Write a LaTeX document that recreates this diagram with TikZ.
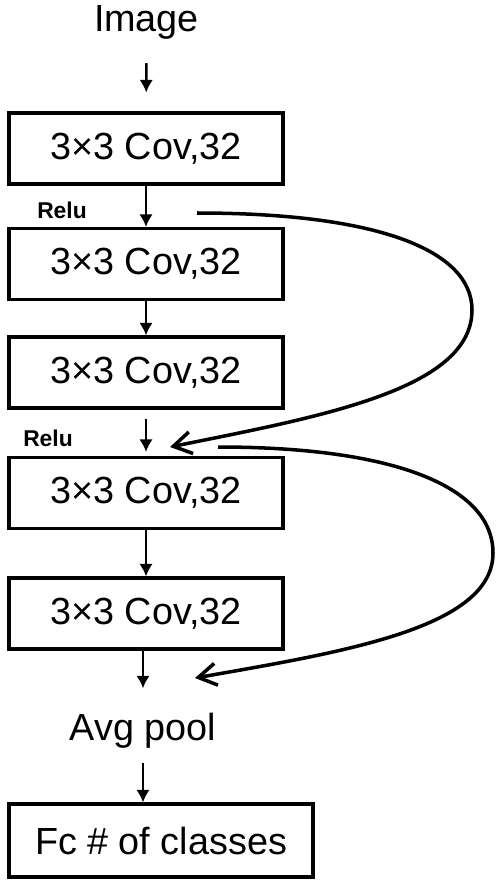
\documentclass[tikz,border=0pt]{standalone}
\usepackage{fontspec}
\setmainfont{Liberation Sans}
\usetikzlibrary{positioning,arrows.meta}

\begin{document}
\begin{tikzpicture}[
    x=0.02cm, y=-0.02cm,
    conv/.style={
        draw=black,
        line width=1.8pt,
        minimum width=5.48cm,
        minimum height=1.42cm,
        inner sep=0pt,
        font=\fontsize{21.5}{24}\selectfont
    },
    plain/.style={inner sep=0pt, font=\fontsize{21.5}{24}\selectfont},
    act/.style={inner sep=0pt, font=\fontsize{13}{15}\selectfont\bfseries},
    flow/.style={-{Latex[length=2.5mm,width=2.7mm]}, line width=1.4pt},
    skip/.style={-{Straight Barb[length=3.6mm,width=4.4mm]}, line width=2pt}
]

\useasboundingbox (0,0) rectangle (500,883);

% --- Column x-position ---
\def\xMid{146}

% --- Layers ---
\node[plain, anchor=base] (img) at (146.5, 31) {Image};
\node[conv] (c1) at (\xMid, 148.5) {3×3 Cov,32};
\node[conv] (c2) at (\xMid, 264)   {3×3 Cov,32};
\node[conv] (c3) at (\xMid, 372.5) {3×3 Cov,32};
\node[conv] (c4) at (\xMid, 493)   {3×3 Cov,32};
\node[conv] (c5) at (\xMid, 613.5) {3×3 Cov,32};
\node[plain, anchor=base] (pool) at (143, 740) {Avg pool};
\node[conv, minimum width=6.08cm, minimum height=1.46cm] (fc) at (161, 840.5) {Fc \# of classes};

% --- Activations ---
\node[act] (relu1) at (62, 210) {Relu};
\node[act] (relu2) at (48, 438) {Relu};

% --- Main flow ---
\draw[flow, shorten <=0.48cm, shorten >=0.38cm] (img) -- (c1);
\draw[flow] (c1) -- (c2);
\draw[flow] (c2) -- (c3);
\draw[flow, shorten <=0.18cm, shorten >=0.08cm] (c3) -- (c4);
\draw[flow] (c4) -- (c5);
\draw[flow, shorten >=0.48cm] (c5.south -| pool) -- (pool);
\draw[flow, shorten <=0.3cm] (pool) -- (pool |- fc.north);

% --- Skip connections ---
\coordinate (sA0) at (197, 213);
\coordinate (sA1) at (472, 310);
\coordinate (sA2) at (170, 447);
\draw[skip] (sA0) .. controls +(180,0) and +(0,-60) .. (sA1)
    .. controls +(0,80) and +(148,-30) .. (sA2);

\coordinate (sB0) at (218, 447);
\coordinate (sB1) at (493, 553);
\coordinate (sB2) at (195, 678);
\draw[skip] (sB0) .. controls +(180,0) and +(0,-65) .. (sB1)
    .. controls +(0,75) and +(148,-26) .. (sB2);

\end{tikzpicture}
\end{document}
